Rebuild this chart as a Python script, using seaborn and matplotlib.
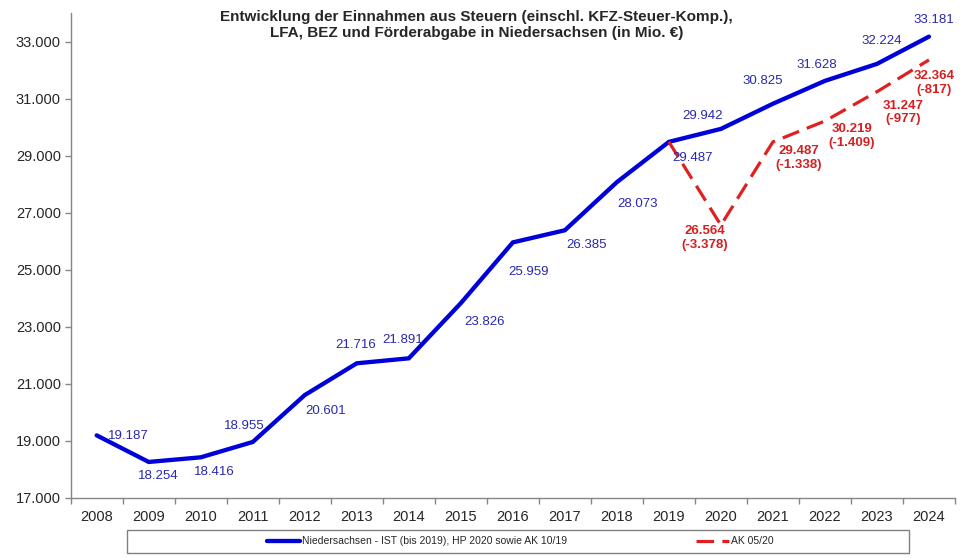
import matplotlib
matplotlib.use('Agg')
import matplotlib.pyplot as plt
import matplotlib.ticker as mticker
from matplotlib.patches import Rectangle
from matplotlib.lines import Line2D
import seaborn as sns
import pandas as pd

# Daten (in Mio. €)
years = list(range(2008, 2025))
ist_values = [19187, 18254, 18416, 18955, 20601, 21716, 21891, 23826, 25959,
              26385, 28073, 29487, 29942, 30825, 31628, 32224, 33181]
ak_years = [2019, 2020, 2021, 2022, 2023, 2024]
ak_values = [29487, 26564, 29487, 30219, 31247, 32364]

label_ist = 'Niedersachsen - IST (bis 2019), HP 2020 sowie AK 10/19'
label_ak = 'AK 05/20'
title = ('Entwicklung der Einnahmen aus Steuern (einschl. KFZ-Steuer-Komp.),\n'
         'LFA, BEZ und Förderabgabe in Niedersachsen (in Mio. €)')

# Label-Versatz in Pixeln (dx, dy nach unten)
ist_offsets = [(32, 1), (10, 14), (14, 15), (-8, -16), (21, 16), (-1, -18),
               (-6, -18), (24, 19), (16, 30), (22, 15), (21, 22), (24, 16),
               (-18, -13), (-10, -23), (-8, -16), (5, -23), (5, -17)]
ak_offsets = [(-16, 13), (26, 16), (27, 15), (26, 21), (5, 23)]

BLUE = '#0000D8'
BLUE_TXT = '#2828B0'
RED = '#E02020'
RED_TXT = '#D42020'


def de_fmt(v):
    return f'{v:,.0f}'.replace(',', '.')


sns.set_style('white')
plt.rcParams['font.family'] = ['Liberation Sans', 'DejaVu Sans']

df_ist = pd.DataFrame({'Jahr': years, 'Wert': ist_values})
df_ak = pd.DataFrame({'Jahr': ak_years, 'Wert': ak_values})

fig = plt.figure(figsize=(9.72, 5.58), dpi=100)
ax = fig.add_axes([0.0727, 0.1081, 0.9098, 0.8681])

sns.lineplot(data=df_ist, x='Jahr', y='Wert', ax=ax, color=BLUE, linewidth=3.1,
             solid_joinstyle='miter')
sns.lineplot(data=df_ak, x='Jahr', y='Wert', ax=ax, color=RED, linewidth=2.3,
             linestyle=(0, (5.5, 2.6)))

# Datenbeschriftungen
for x, v, (dx, dy) in zip(years, ist_values, ist_offsets):
    ax.annotate(de_fmt(v), (x, v), xytext=(dx, -dy), textcoords='offset pixels',
                ha='center', va='center', fontsize=9.5, color=BLUE_TXT)

ist_map = dict(zip(years, ist_values))
for x, v, (dx, dy) in zip(ak_years[1:], ak_values[1:], ak_offsets):
    diff = v - ist_map[x]
    ax.annotate(f'{de_fmt(v)}\n({de_fmt(diff)})', (x, v), xytext=(dx, -dy),
                textcoords='offset pixels', ha='center', va='center',
                fontsize=9.5, color=RED_TXT, fontweight='bold', linespacing=1.15)

# Achsen
ax.set_xlim(years[0] - 0.5, years[-1] + 0.5)
ax.set_ylim(17000, 34000)
ax.set_yticks(range(17000, 34000, 2000))
ax.yaxis.set_major_formatter(mticker.FuncFormatter(lambda v, p: de_fmt(v)))
ax.set_xticks([y - 0.5 for y in years] + [years[-1] + 0.5])
ax.set_xticklabels([])
ax.set_xticks(years, minor=True)
ax.set_xticklabels([str(y) for y in years], minor=True)
ax.tick_params(axis='x', which='minor', length=0, pad=9, labelsize=10.5)
ax.tick_params(axis='x', which='major', length=4, width=1, color='#868686',
               direction='out', bottom=True)
ax.tick_params(axis='y', length=4, width=1, color='#868686', direction='out',
               left=True, labelsize=10.5, pad=3)
ax.set_xlabel('')
ax.set_ylabel('')
for side in ['top', 'right']:
    ax.spines[side].set_visible(False)
for side in ['left', 'bottom']:
    ax.spines[side].set_color('#868686')
    ax.spines[side].set_linewidth(1)

fig.text(0.49, 0.982, title, ha='center', va='top', fontsize=11,
         fontweight='bold', linespacing=1.2)

# Legende mit Rahmen
box = Rectangle((127 / 972, 1 - 552.7 / 558), 782 / 972, 23 / 558,
                transform=fig.transFigure, facecolor='white',
                edgecolor='#808080', linewidth=1)
fig.patches.append(box)
handles = [Line2D([], [], color=BLUE, linewidth=3.1),
           Line2D([], [], color=RED, linewidth=2.3, linestyle=(0, (5.5, 2.6)))]
fig.legend(handles, [label_ist, label_ak], loc='center',
           bbox_to_anchor=(520 / 972, 1 - 541.3 / 558), ncol=2, frameon=False,
           fontsize=7.5, handlelength=3.2, handletextpad=0.15,
           columnspacing=12.4)

fig.savefig('out.png', dpi=100)
plt.close(fig)
